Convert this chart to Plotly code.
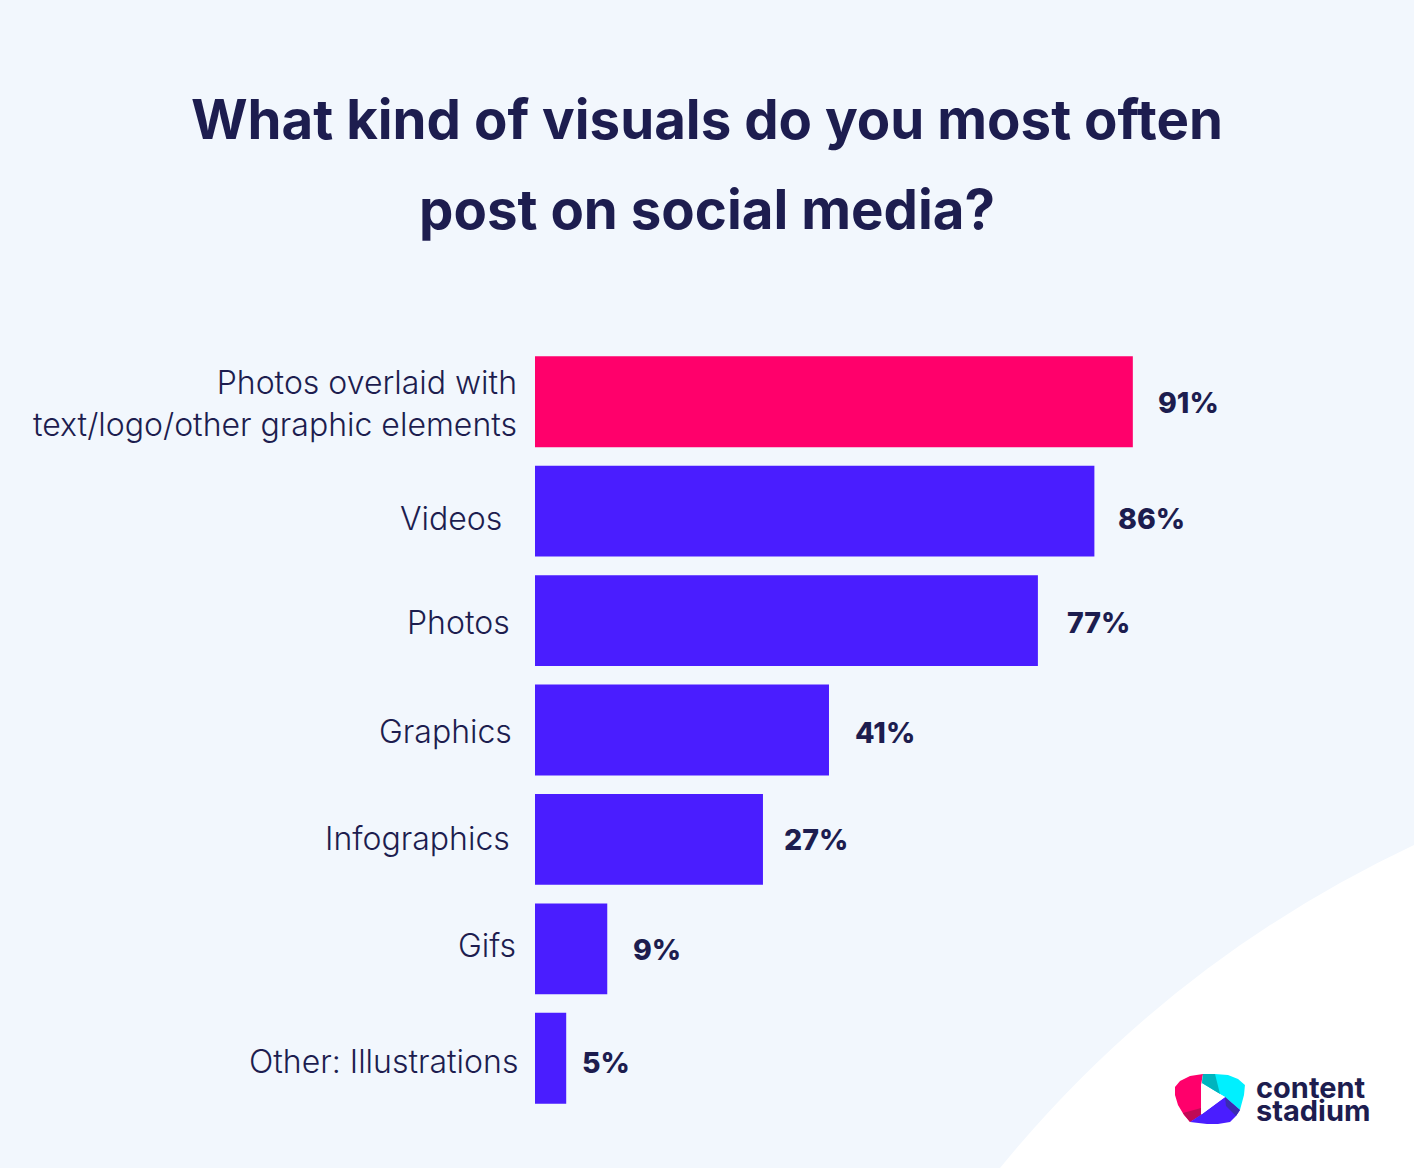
import plotly.graph_objects as go

# valeurs
categories = ['Photos overlaid with<br>text/logo/other graphic elements', 'Videos', 'Photos',
              'Graphics', 'Infographics', 'Gifs', 'Other: Illustrations']
value_labels = ['91%', '86%', '77%', '41%', '27%', '9%', '5%']
# longueurs des barres telles que dessinees (pas tout a fait proportionnelles aux %)
bar_lengths = [91, 85.15, 76.55, 44.75, 34.7, 11, 4.75]
bar_colors = ['#FF006B', '#4A1DFF', '#4A1DFF', '#4A1DFF', '#4A1DFF', '#4A1DFF', '#4A1DFF']

W, H = 1414, 1168
NAVY = '#1D1D4F'
FONT = 'Inter'
L, T, B = 535, 347, 55

# decalages des etiquettes
label_dx = [23, 22, 27, 24, 19, 24, 14]
label_dy = [-1, -7, -2, -2, 0, -1, -4]
cat_dx = [-16, -31, -23, -21, -23, -17, -15]
cat_dy = [-2, -7, -2, -1, 1, 3, -3]


def px(x):
    return (x - L) / (W - L)


def py(y):
    return (H - B - y) / (H - T - B)


def poly(points):
    return 'M ' + ' L '.join(f'{px(x):.4f} {py(y):.4f}' for x, y in points) + ' Z'


fig = go.Figure(go.Bar(
    x=bar_lengths,
    y=categories,
    orientation='h',
    marker=dict(color=bar_colors, line=dict(width=0)),
    width=0.83,
    cliponaxis=False,
))

for cat, length, lab, dx, dy in zip(categories, bar_lengths, value_labels, label_dx, label_dy):
    fig.add_annotation(x=length, y=cat, text=lab, xanchor='left', yanchor='middle', showarrow=False,
                       xshift=dx, yshift=dy, font=dict(family=FONT, size=28.5, color=NAVY, weight=800))

# noms des categories, pas tous alignes sur le meme bord dans l'original
for cat, dx, dy in zip(categories, cat_dx, cat_dy):
    fig.add_annotation(x=0, y=cat, text=cat, xanchor='right', yanchor='middle', align='right', showarrow=False,
                       xshift=dx, yshift=dy, font=dict(family=FONT, size=32, color=NAVY, weight=300))

fig.update_layout(
    width=W, height=H,
    autosize=False,
    paper_bgcolor='#F2F7FD',
    plot_bgcolor='rgba(0,0,0,0)',
    showlegend=False,
    margin=dict(l=L, r=0, t=T, b=B),
    font=dict(family=FONT, color=NAVY),
    xaxis=dict(range=[0, 133.8], visible=False),
    yaxis=dict(autorange='reversed', showgrid=False, showline=False, zeroline=False, showticklabels=False),
    title=dict(text='<span style="font-size:54.6px"><b>What kind of visuals do you most often<br>post on social media?</b></span>',
               x=0.5, xanchor='center', y=0.881, yanchor='top',
               font=dict(family=FONT, size=69, color=NAVY)),
)

# coin blanc en bas a droite
curve = f'M {px(1000):.4f} {py(1168):.4f} Q {px(1170):.4f} {py(960):.4f} {px(1414):.4f} {py(845):.4f} L {px(1414):.4f} {py(1168):.4f} Z'
fig.add_shape(type='path', xref='paper', yref='paper', layer='below', path=curve,
              fillcolor='#FFFFFF', line=dict(width=0))

# logo
logo = [
    ('#FF006B', [(1203, 1074), (1190, 1076), (1180, 1081), (1175, 1087), (1175, 1095), (1178, 1105),
                 (1184, 1115), (1190, 1122), (1201, 1115), (1201, 1085)]),
    ('#C00A55', [(1183, 1113), (1190, 1122), (1201, 1115), (1201, 1108)]),
    ('#00F0FF', [(1203, 1074), (1215, 1074), (1228, 1075), (1238, 1079), (1245, 1085), (1244, 1095),
                 (1240, 1110), (1225, 1097), (1202, 1083)]),
    ('#00B4BE', [(1203, 1074), (1215, 1074), (1220, 1094), (1202, 1083)]),
    ('#4A1DFF', [(1225, 1097), (1240, 1110), (1236, 1116), (1230, 1122), (1218, 1124), (1207, 1124),
                 (1190, 1122), (1202, 1114)]),
    ('#3B2BB0', [(1225, 1097), (1240, 1110), (1236, 1116), (1226, 1106)]),
    ('#FFFFFF', [(1201, 1084), (1225, 1097), (1202, 1114)]),
]
for color, pts in logo:
    fig.add_shape(type='path', xref='paper', yref='paper', path=poly(pts), fillcolor=color, line=dict(width=0))

fig.add_annotation(text='<span style="font-size:29px"><b>content<br>stadium</b></span>',
                   xref='paper', yref='paper', x=px(1254), y=py(1099), xanchor='left', yanchor='middle',
                   align='left', showarrow=False, font=dict(family=FONT, size=18, color=NAVY))

fig.write_html("out.html", config=dict(displayModeBar=False),
               post_script="document.body.style.margin='0';document.body.style.overflow='hidden';")
